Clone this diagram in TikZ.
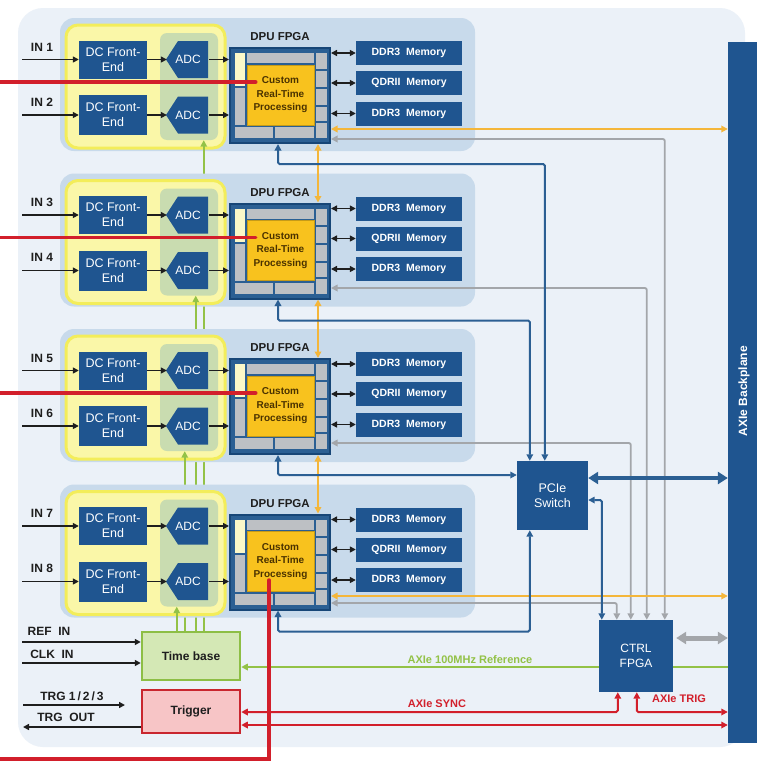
\documentclass[tikz,border=0pt]{standalone}
\usepackage{fontspec}
\setmainfont{Liberation Sans}
\usetikzlibrary{arrows.meta,calc}

\definecolor{card}{HTML}{EBF1F8}
\definecolor{panel}{HTML}{C8DAEB}
\definecolor{ylwfill}{HTML}{FAF7A8}
\definecolor{ylwrim}{HTML}{F3ED5A}
\definecolor{adcbg}{HTML}{C9DCB0}
\definecolor{navy}{HTML}{1F5590}
\definecolor{navydark}{HTML}{174677}
\definecolor{cellgray}{HTML}{BDC0C4}
\definecolor{gold}{HTML}{F8C21E}
\definecolor{paleylw}{HTML}{FBF8C8}
\definecolor{goldtext}{HTML}{4A3200}
\definecolor{linkblue}{HTML}{2B5F93}
\definecolor{linkgray}{HTML}{A3A6AA}
\definecolor{linkorange}{HTML}{F4B63A}
\definecolor{linkgreen}{HTML}{93C247}
\definecolor{linkred}{HTML}{D21F2B}
\definecolor{tbfill}{HTML}{D4E8B5}
\definecolor{tbrim}{HTML}{8DBE45}
\definecolor{trgfill}{HTML}{F7C5C6}
\definecolor{trgrim}{HTML}{C9262E}
\definecolor{ink}{HTML}{1E1E1E}

\tikzset{
  tp/.tip={Triangle[length=6pt,width=6pt]},
  tpb/.tip={Triangle[length=6.5pt,width=6.5pt]},
  tpx/.tip={Triangle[length=10pt,width=12pt]},
  arr/.style={line width=1.5pt, draw=ink, -tp},
  dblarr/.style={line width=1.5pt, draw=ink, tp-tp},
  bluelink/.style={line width=2pt, draw=linkblue, tpb-tpb, rounded corners=1.5pt},
  graylink/.style={line width=1.8pt, draw=linkgray, tpb-tpb, rounded corners=2pt},
  orangelink/.style={line width=2pt, draw=linkorange, tpb-tpb},
  redlink/.style={line width=2pt, draw=linkred, tpb-tpb, rounded corners=1.5pt},
  greenlink/.style={line width=1.6pt, draw=linkgreen, -tpb},
  bigblue/.style={line width=4pt, draw=linkblue, tpx-tpx},
  biggray/.style={line width=5pt, draw=linkgray, tpx-tpx},
  redbus/.style={line width=3.5pt, draw=linkred, line cap=round},
  blk/.style={fill=navy, text=white, inner sep=0pt, align=center},
  fe/.style={blk, minimum width=68pt, minimum height=38pt, font=\fontsize{12.5}{15}\selectfont},
  adc/.style={inner sep=0pt, minimum width=42pt, minimum height=37pt, text=white, font=\fontsize{12}{14}\selectfont},
  mem/.style={blk, minimum width=106pt, minimum height=24pt, font=\fontsize{10.5}{12}\selectfont\bfseries},
  yzone/.style={fill=ylwfill, draw=ylwrim, line width=3pt, rounded corners=12pt, minimum width=159pt, minimum height=123pt, inner sep=0pt},
  azone/.style={fill=adcbg, rounded corners=7pt, minimum width=58pt, minimum height=107pt, inner sep=0pt},
  fpgabox/.style={fill=linkblue, draw=navydark, line width=2pt, minimum width=100pt, minimum height=95pt, inner sep=0pt},
  core/.style={fill=gold, draw=gold!80!black, line width=0.5pt, minimum width=67pt, minimum height=60pt, inner sep=0pt, align=center, text=goldtext, font=\fontsize{10}{13.5}\selectfont\bfseries},
  title/.style={inner sep=0pt, text=ink, font=\fontsize{11.5}{13}\selectfont\bfseries},
  inlbl/.style={inner sep=0pt, text=ink, font=\fontsize{12}{14}\selectfont\bfseries},
  lbl/.style={inner sep=0pt, font=\fontsize{11}{13}\selectfont\bfseries},
  tbbox/.style={fill=tbfill, draw=tbrim, line width=2.5pt, minimum width=98pt, minimum height=48pt, inner sep=0pt, text=ink, font=\fontsize{12}{14}\selectfont\bfseries},
  trgbox/.style={fill=trgfill, draw=trgrim, line width=2.5pt, minimum width=98pt, minimum height=43pt, inner sep=0pt, text=ink, font=\fontsize{12}{14}\selectfont\bfseries}
}

\begin{document}
\begin{tikzpicture}[x=1pt,y=-1pt]
\useasboundingbox (0,0) rectangle (757,763);
\fill[white] (0,0) rectangle (757,763);
\fill[card, rounded corners=25pt] (18,8) rectangle (745,747);

% clock and trigger blocks
\node[tbbox] (tb) at (191,656) {Time base};
\node[trgbox] (trig) at (191,711.5) {Trigger};

% four digitizer channel pairs
\foreach \i/\dy/\gx in {1/0/63,2/155.5/55,3/311/44,4/466.5/36}{
  \pgfmathtruncatemacro\na{2*\i-1}
  \pgfmathtruncatemacro\nb{2*\i}
  \begin{scope}[shift={(0,\dy)}]
    \fill[panel, rounded corners=14pt] (60,18) rectangle (475,151);
    \node[yzone] (yz\i) at (145.5,86.5) {};
    \node[azone] (az\i) at (189,86.5) {};
    \node[fe] (fea\i) at (113,59.5) {DC Front-\\End};
    \node[fe, minimum height=40pt] (feb\i) at (113,115) {DC Front-\\End};
    \fill[navy] (166,59.5) -- (178,41) -- (208,41) -- (208,78) -- (178,78) -- cycle;
    \fill[navy] (166,115) -- (178,96.5) -- (208,96.5) -- (208,133.5) -- (178,133.5) -- cycle;
    \node[adc] (adca\i) at (188,59.5) {ADC};
    \node[adc] (adcb\i) at (188,115) {ADC};
    \node[fpgabox] (fpga\i) at (280,95.5) {};
    \fill[paleylw] (235,53) rectangle (245,86);
    \fill[cellgray] (235,88) rectangle (245,125);
    \fill[cellgray] (247,53) rectangle (314,63);
    \foreach \ya/\yb in {53/69,71/87,89/105,107/121,123/138}
      \fill[cellgray] (316,\ya) rectangle (327,\yb);
    \fill[cellgray] (235,127) rectangle (273,138);
    \fill[cellgray] (275,127) rectangle (314,138);
    \node[core] (core\i) at (280.5,95) {Custom\\Real-Time\\Processing};
    \node[title] (dpu\i) at (280,37) {DPU FPGA};
    \node[mem] (mema\i) at (409,53) {DDR3\ \ Memory};
    \node[mem] (memb\i) at (409,83) {QDRII\ \ Memory};
    \node[mem] (memc\i) at (409,113.5) {DDR3\ \ Memory};
    \node[inlbl] (ina\i) at (42,47) {IN \na};
    \node[inlbl] (inb\i) at (42,102) {IN \nb};
    \coordinate (sa\i) at (22,59.5);
    \coordinate (sb\i) at (22,115);
  \end{scope}
  \draw[arr] (sa\i) -- (fea\i.west);
  \draw[arr] (sb\i) -- (feb\i.west);
  \draw[arr] (fea\i.east) -- (adca\i.west);
  \draw[arr] (feb\i.east) -- (adcb\i.west);
  \draw[arr] (adca\i.east) -- (adca\i.east -| fpga\i.west);
  \draw[arr] (adcb\i.east) -- (adcb\i.east -| fpga\i.west);
  \draw[dblarr] (mema\i.west -| fpga\i.east) -- (mema\i.west);
  \draw[dblarr] (memb\i.west -| fpga\i.east) -- (memb\i.west);
  \draw[dblarr] (memc\i.west -| fpga\i.east) -- (memc\i.west);
  % sample clock from the time base
  \coordinate (gl\i) at ($(tb.north west)+(\gx,0)$);
  \draw[greenlink] (gl\i) -- (gl\i |- az\i.south);
}

% switch, control FPGA and backplane
\node[blk, minimum width=71pt, minimum height=69pt, font=\fontsize{12.5}{14.5}\selectfont] (pcie) at (552.5,495.5) {PCIe\\Switch};
\node[fill=navy, minimum width=29pt, minimum height=701pt, inner sep=0pt] (bp) at (742.5,392.5) {};
\node[rotate=90, text=white, inner sep=0pt, font=\fontsize{12}{14}\selectfont\bfseries] (bplbl) at (744,391) {AXIe Backplane};

% 100 MHz reference from the backplane
\coordinate (g0) at ($(tb.east)+(0,11)$);
\draw[greenlink] (g0 -| bp.west) -- (g0);
\node[lbl, text=linkgreen] (reflbl) at (470,660) {AXIe 100MHz Reference};

\node[blk, minimum width=74pt, minimum height=72pt, font=\fontsize{12}{15}\selectfont] (ctrl) at (636,656) {CTRL\\FPGA};

% control links to the CTRL FPGA
\coordinate (k1) at ($(fpga1.north east)+(0,92)$);
\coordinate (k2) at ($(fpga2.north east)+(0,85.5)$);
\coordinate (k3) at ($(fpga3.north east)+(0,85)$);
\coordinate (k4) at ($(fpga4.north east)+(0,89.5)$);
\draw[graylink] (k1) -| ($(ctrl.north west)+(66,0)$);
\draw[graylink] (k2) -| ($(ctrl.north west)+(48,0)$);
\draw[graylink] (k3) -| ($(ctrl.north west)+(32,0)$);
\draw[graylink] (k4) -| ($(ctrl.north west)+(18,0)$);

% high-speed links to the backplane
\coordinate (o1) at ($(fpga1.north east)+(0,82)$);
\coordinate (o4) at ($(fpga4.north east)+(0,82.5)$);
\draw[orangelink] (o1) -- (o1 -| bp.west);
\draw[orangelink] (o4) -- (o4 -| bp.west);
\foreach \i/\j in {1/2,2/3,3/4}
  \draw[orangelink] ($(fpga\i.south west)+(89,0)$) -- ($(fpga\j.north west)+(89,0)$);

% PCIe links
\coordinate (xa) at ($(pcie.north west)+(13,0)$);
\coordinate (xb) at ($(pcie.north west)+(28,0)$);
\coordinate (p3) at ($(pcie.west)+(0,-20.5)$);
\draw[bluelink] ($(fpga1.south)+(-2,0)$) -- ++(0,20) -| (xb);
\draw[bluelink] ($(fpga2.south)+(-2,0)$) -- ++(0,21) -| (xa);
\draw[bluelink] ($(fpga3.south)+(-2,0)$) |- (p3);
\draw[bluelink] ($(fpga4.south)+(-2,0)$) -- ++(0,21) -| ($(pcie.south west)+(13,0)$);
\draw[bluelink] ($(pcie.east)+(0,4.5)$) -| ($(ctrl.north west)+(3,0)$);
\coordinate (p5) at ($(pcie.east)+(0,-17.5)$);
\draw[bigblue] (p5) -- (p5 -| bp.west);
\coordinate (c1) at ($(ctrl.east)+(3,-18)$);
\draw[biggray] (c1) -- (c1 -| bp.west);

% sync and trigger
\coordinate (r1) at ($(trig.east)+(0,0.5)$);
\coordinate (r2) at ($(trig.east)+(0,13.5)$);
\draw[redlink] (r1) -| ($(ctrl.south west)+(19,0)$);
\draw[redlink] (r2) -- (r2 -| bp.west);
\draw[redlink] ($(ctrl.south west)+(38,0)$) |- (r1 -| bp.west);
\node[lbl, text=linkred] (synclbl) at (437,704) {AXIe SYNC};
\node[lbl, text=linkred] (triglbl) at (679,699) {AXIe TRIG};

% front panel connectors
\node[inlbl] (reflbl2) at (49,631) {REF\ \ IN};
\node[inlbl] (clklbl) at (52,654) {CLK\ \ IN};
\node[inlbl] (trglbl) at (72,696) {TRG 1\,/\,2\,/\,3};
\node[inlbl] (trgolbl) at (66,717) {TRG\ \ OUT};
\coordinate (refin) at (22,642);
\coordinate (clkin) at (22,663);
\coordinate (trgin) at (23,705);
\coordinate (trgend) at (125,705);
\coordinate (trgout) at (23,727);
\draw[arr] (refin) -- (refin -| tb.west);
\draw[arr] (clkin) -- (clkin -| tb.west);
\draw[arr] (trgin) -- (trgend);
\draw[arr] (trgout -| trig.west) -- (trgout);

% processing outputs
\coordinate (leftedge) at (0,0);
\foreach \i in {1,2,3}{
  \coordinate (re\i) at ($(core\i.west)+(9,-13)$);
  \draw[redbus] (re\i -| leftedge) -- (re\i);
}
\coordinate (re4) at ($(core4.center)+(-11.5,18.5)$);
\coordinate (rb) at (0,759);
\draw[redbus] (re4) |- (rb);
\end{tikzpicture}
\end{document}
